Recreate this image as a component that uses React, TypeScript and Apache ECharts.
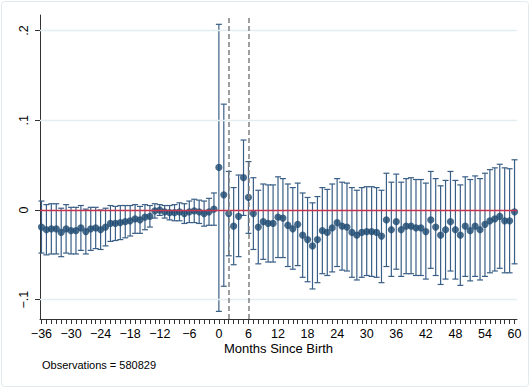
import React, { useEffect, useRef } from "react";
import * as echarts from "echarts";

// Months relative to birth
const months = [
  -36, -35, -34, -33, -32, -31, -30, -29, -28, -27, -26, -25, -24, -23, -22, -21, -20, -19,
  -18, -17, -16, -15, -14, -13, -12, -11, -10, -9, -8, -7, -6, -5, -4, -3, -2, -1,
  0, 1, 2, 3, 4, 5, 6, 7, 8, 9, 10, 11, 12, 13, 14, 15, 16, 17, 18, 19, 20,
  21, 22, 23, 24, 25, 26, 27, 28, 29, 30, 31, 32, 33, 34, 35, 36, 37, 38, 39, 40,
  41, 42, 43, 44, 45, 46, 47, 48, 49, 50, 51, 52, 53, 54, 55, 56, 57, 58, 59, 60,
];

// Point estimates
const estimate = [
  -0.019, -0.022, -0.021, -0.021, -0.025, -0.021, -0.023, -0.023, -0.020, -0.024, -0.021, -0.020,
  -0.022, -0.019, -0.015, -0.015, -0.014, -0.013, -0.012, -0.010, -0.011, -0.008, -0.007, -0.001,
  0.000, -0.002, -0.003, -0.003, -0.002, -0.004, -0.002, -0.001, -0.002, -0.004, -0.002, 0.001,
  0.0475, 0.017, -0.004, -0.018, -0.007, 0.036, 0.014, -0.004, -0.019, -0.013, -0.015, -0.015,
  -0.008, -0.009, -0.017, -0.021, -0.016, -0.028, -0.033, -0.040, -0.033, -0.023, -0.025, -0.020,
  -0.014, -0.018, -0.019, -0.025, -0.028, -0.025, -0.024, -0.024, -0.025, -0.029, -0.011, -0.022,
  -0.013, -0.022, -0.018, -0.018, -0.020, -0.020, -0.024, -0.011, -0.019, -0.028, -0.022, -0.013,
  -0.022, -0.028, -0.018, -0.023, -0.018, -0.022, -0.016, -0.012, -0.010, -0.007, -0.012, -0.012,
  -0.002,
];

// Lower bounds of the confidence intervals
const lower = [
  -0.048, -0.050, -0.049, -0.049, -0.052, -0.048, -0.049, -0.049, -0.045, -0.049, -0.045, -0.043,
  -0.044, -0.040, -0.035, -0.034, -0.033, -0.031, -0.029, -0.026, -0.026, -0.022, -0.019, -0.009,
  -0.006, -0.009, -0.011, -0.012, -0.012, -0.015, -0.014, -0.014, -0.015, -0.018, -0.017, -0.017,
  -0.113, -0.085, -0.051, -0.061, -0.052, -0.006, -0.026, -0.044, -0.060, -0.055, -0.058, -0.058,
  -0.053, -0.053, -0.063, -0.066, -0.062, -0.075, -0.080, -0.088, -0.081, -0.071, -0.073, -0.069,
  -0.063, -0.067, -0.068, -0.075, -0.078, -0.075, -0.073, -0.074, -0.075, -0.081, -0.063, -0.074,
  -0.066, -0.074, -0.071, -0.071, -0.073, -0.073, -0.077, -0.065, -0.073, -0.083, -0.077, -0.068,
  -0.077, -0.084, -0.074, -0.079, -0.074, -0.078, -0.074, -0.070, -0.068, -0.065, -0.070, -0.070,
  -0.060,
];

// Upper bounds of the confidence intervals
const upper = [
  0.010, 0.006, 0.007, 0.007, 0.002, 0.006, 0.003, 0.003, 0.005, 0.001, 0.003, 0.003,
  0.000, 0.002, 0.005, 0.004, 0.005, 0.005, 0.005, 0.006, 0.004, 0.006, 0.005, 0.007,
  0.006, 0.005, 0.005, 0.006, 0.008, 0.007, 0.010, 0.012, 0.011, 0.010, 0.013, 0.019,
  0.207, 0.118, 0.043, 0.025, 0.039, 0.078, 0.054, 0.036, 0.022, 0.029, 0.028, 0.028,
  0.037, 0.035, 0.029, 0.025, 0.030, 0.019, 0.014, 0.008, 0.015, 0.025, 0.023, 0.029,
  0.035, 0.031, 0.030, 0.025, 0.022, 0.025, 0.026, 0.026, 0.025, 0.022, 0.041, 0.031,
  0.040, 0.031, 0.035, 0.036, 0.034, 0.034, 0.030, 0.043, 0.035, 0.027, 0.033, 0.043,
  0.033, 0.028, 0.037, 0.034, 0.038, 0.035, 0.041, 0.045, 0.047, 0.051, 0.047, 0.046,
  0.056,
];

const xTickLabels = [-36, -30, -24, -18, -12, -6, 0, 6, 12, 18, 24, 30, 36, 42, 48, 54, 60];
const yTickLabels = [-0.1, 0, 0.1, 0.2];
const gridValues = [-0.1, 0.1, 0.2];
const eventMonths = [2, 6];
const observationsNote = "Observations = 580829";
const xTitle = "Months Since Birth";

const FONT = '"Liberation Sans", Arial, Helvetica, sans-serif';
const NAVY = "#1a476f";
const CI_COLOR = "#3a5f86";

const fmtY = (v: number) => {
  const r = Math.round(v * 10) / 10;
  if (r === 0) return "0";
  const s = Math.abs(r).toString().replace(/^0/, "");
  return r < 0 ? "\u2212" + s : s;
};
const fmtX = (v: number) => (v < 0 ? "\u2212" + Math.abs(v) : String(v));

export default function App() {
  const ref = useRef<HTMLDivElement>(null);

  useEffect(() => {
    if (!ref.current) return;
    const chart = echarts.init(ref.current, null, { renderer: "svg" });

    const ciData = months.map((m, i) => [m, lower[i], upper[i]]);
    const pointData = months.map((m, i) => [m, estimate[i]]);

    chart.setOption({
      animation: false,
      backgroundColor: "#ffffff",
      textStyle: { fontFamily: FONT },
      grid: { left: 40, right: 13, top: 15, bottom: 69, containLabel: false },
      xAxis: {
        type: "value",
        min: -36.3,
        max: 60.5,
        axisLine: { show: true, onZero: false, lineStyle: { color: "#333", width: 1 } },
        axisTick: {
          show: true,
          customValues: months,
          length: 5,
          lineStyle: { color: "#333", width: 1 },
        },
        axisLabel: {
          customValues: xTickLabels,
          formatter: (v: number) => fmtX(v),
          fontFamily: FONT,
          fontSize: 12.5,
          lineHeight: 12,
          color: "#000",
          margin: 9,
        },
        splitLine: { show: false },
      },
      yAxis: {
        type: "value",
        min: -0.1215,
        max: 0.2174,
        axisLine: { show: true, onZero: false, lineStyle: { color: "#333", width: 1 } },
        axisTick: {
          show: true,
          customValues: yTickLabels,
          length: 5,
          lineStyle: { color: "#333", width: 1 },
        },
        axisLabel: {
          customValues: yTickLabels,
          formatter: (v: number) => fmtY(v),
          rotate: 90,
          fontFamily: FONT,
          fontSize: 12.5,
          color: "#000",
          margin: 10,
        },
        splitLine: { show: false },
      },
      graphic: [
        {
          type: "rect",
          silent: true,
          shape: { x: 1.5, y: 1.5, width: 527, height: 385, r: 3 },
          style: { fill: "none", stroke: "#e3eaed", lineWidth: 1 },
        },
        {
          // x-axis title
          type: "text",
          x: 278.5,
          y: 348,
          style: {
            text: xTitle,
            fontFamily: FONT,
            fontSize: 13,
            lineHeight: 13,
            fill: "#000",
            align: "center",
            verticalAlign: "middle",
          },
        },
        {
          type: "text",
          x: 42,
          y: 364.5,
          style: {
            text: observationsNote,
            fontFamily: FONT,
            fontSize: 11,
            lineHeight: 11,
            fill: "#000",
            align: "left",
            verticalAlign: "middle",
          },
        },
      ],
      series: [
        {
          // reference lines: grid, zero line, event markers
          type: "line",
          data: [],
          z: 1,
          silent: true,
          markLine: {
            silent: true,
            symbol: "none",
            label: { show: false },
            animation: false,
            data: [
              ...gridValues.map((v) => ({
                yAxis: v,
                lineStyle: { color: "#e4edef", width: 1.3, type: "solid" },
              })),
              { yAxis: 0, lineStyle: { color: "#c8344f", width: 1.3, type: "solid" } },
              ...eventMonths.map((m) => ({
                xAxis: m,
                lineStyle: { color: "#808080", width: 1.5, type: [5, 3] },
              })),
            ],
          },
        },
        {
          type: "custom",
          z: 2,
          silent: true,
          data: ciData,
          encode: { x: 0, y: [1, 2] },
          renderItem: (params: any, api: any) => {
            const x = api.value(0);
            const lo = api.coord([x, api.value(1)]);
            const hi = api.coord([x, api.value(2)]);
            const cap = 3;
            const style = { stroke: CI_COLOR, lineWidth: 1.2 };
            return {
              type: "group",
              children: [
                { type: "line", shape: { x1: lo[0], y1: lo[1], x2: hi[0], y2: hi[1] }, style },
                { type: "line", shape: { x1: lo[0] - cap, y1: lo[1], x2: lo[0] + cap, y2: lo[1] }, style },
                { type: "line", shape: { x1: hi[0] - cap, y1: hi[1], x2: hi[0] + cap, y2: hi[1] }, style },
              ],
            };
          },
        },
        {
          type: "scatter",
          z: 3,
          silent: true,
          data: pointData,
          symbol: "circle",
          symbolSize: 7.2,
          itemStyle: { color: NAVY },
        },
      ],
    });

    return () => chart.dispose();
  }, []);

  return (
    <div
      ref={ref}
      style={{ position: "fixed", left: 0, top: 0, width: 530, height: 388, background: "#fff" }}
    />
  );
}
